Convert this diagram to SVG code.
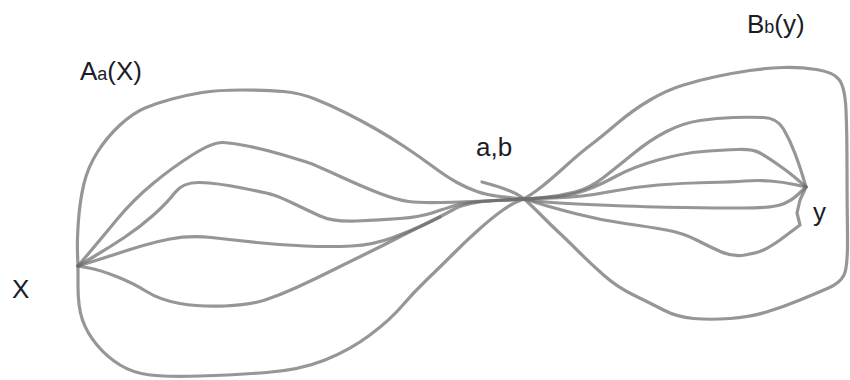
<svg xmlns="http://www.w3.org/2000/svg" width="850" height="380" viewBox="0 0 850 380">
<style>
.c{fill:none;stroke:#6e6e6e;stroke-opacity:0.72;stroke-width:3.2;stroke-linejoin:round;stroke-linecap:round}
.t{font-family:"Liberation Sans","Open Sans",sans-serif;font-size:26px;fill:#1c1c28}
.s{font-size:18px}
</style>
<rect width="850" height="380" fill="#fff"/>
<g id="connectors">
<path class="c" d="M78,266 L77.5,253 Q77,240 78.5,220 Q80,200 84,183.5 Q88,167 97.5,152 Q107,137 120,125 Q133,113 145,108 Q157,103 172,99 Q187,95 202,92.5 Q217,90 242,90 Q267,90 283.5,91.5 Q300,93 315,99 Q330,105 345,112.5 Q360,120 375,128.5 Q390,137 405,147 Q420,157 433.5,167 Q447,177 457,182.5 Q467,188 477,191.5 Q487,195 500,196.5 Q513,198 519,198.5 L525,199"/>
<path class="c" d="M78,266 L89,253 Q100,240 116.5,220 Q133,200 153,183.5 Q173,167 193,154.5 Q213,142 223,142.5 Q233,143 250,146.5 Q267,150 283.5,155 Q300,160 306.5,162 Q313,164 338,175.5 Q363,187 380,193.5 Q397,200 408.5,201.5 Q420,203 441.5,202.5 Q463,202 494,200.5 L525,199"/>
<path class="c" d="M78,266 L94,256.5 Q110,247 125,237 Q140,227 153.5,215 Q167,203 175,192.5 Q183,182 200,182.5 Q217,183 242,188 Q267,193 273.5,195 Q280,197 293.5,203.5 Q307,210 320,216 Q333,222 356.5,221 Q380,220 400,218.5 Q420,217 433.5,212.5 Q447,208 457,205 Q467,202 496,200.5 L525,199"/>
<path class="c" d="M78,266 L92.5,261.5 Q107,257 128.5,250 Q150,243 170,239 Q190,235 211.5,237.5 Q233,240 256.5,242.5 Q280,245 305,246 Q330,247 351.5,246 Q373,245 393,237.5 Q413,230 426.5,223.5 Q440,217 453.5,209.5 Q467,202 496,200.5 L525,199"/>
<path class="c" d="M78,266 L89,268 Q100,270 116.5,276.5 Q133,283 146.5,291.5 Q160,300 180,303.5 Q200,307 225,306 Q250,305 265,300 Q280,295 296.5,287.5 Q313,280 330,271.5 Q347,263 363.5,255 Q380,247 396.5,238.5 Q413,230 426.5,223.5 L440,217"/>
<path class="c" d="M78,266 L78,286.5 Q78,307 82.5,320 Q87,333 97,345 Q107,357 120,365 Q133,373 150,375 Q167,377 200,376 Q233,375 266.5,372.5 Q300,370 325,360 Q350,350 370,335 Q390,320 401.5,306.5 Q413,293 426.5,280 Q440,267 453.5,253.5 Q467,240 480,228.5 Q493,217 503,210 Q513,203 519,201 Q525,199 536,191 Q547,183 563.5,168 Q580,153 590,145.5 Q600,138 616.5,124 Q633,110 650,100 Q667,90 683.5,85 Q700,80 716.5,76.5 Q733,73 750,70.5 Q767,68 783.5,67.5 Q800,67 816.5,69.5 Q833,72 839,79.5 Q845,87 846,110 Q847,133 847,166.5 Q847,200 847.5,233.5 Q848,267 844,275 Q840,283 828.5,288 Q817,293 800,300 Q783,307 766.5,312 Q750,317 730,318.5 Q710,320 693.5,318.5 Q677,317 663.5,310 Q650,303 633.5,295 Q617,287 603.5,275 Q590,263 578.5,251.5 Q567,240 560,233.5 Q553,227 543,217 Q533,207 526.5,201 Q520,195 510,191 Q500,187 491,184.5 L482,182"/>
<path class="c" d="M525,199 L542.5,197.5 Q560,196 575,192 Q590,188 603.5,177.5 Q617,167 633.5,153.5 Q650,140 666.5,131.5 Q683,123 700,120.5 Q717,118 733.5,117.5 Q750,117 763.5,117.5 Q777,118 783.5,129 Q790,140 795,153.5 Q800,167 803,177 L806,187"/>
<path class="c" d="M525,199 L547.5,197.5 Q570,196 585,190.5 Q600,185 616.5,176 Q633,167 658,160 Q683,153 703,151.5 Q723,150 738,149.5 Q753,149 760,153 Q767,157 778.5,165 Q790,173 798,180 L806,187"/>
<path class="c" d="M525,199 L554,198 Q583,197 608,192 Q633,187 658,185 Q683,183 708,182.5 Q733,182 745,181 Q757,180 770,181 Q783,182 794.5,184.5 L806,187"/>
<path class="c" d="M525,199 L537.5,201 Q550,203 600,205 Q650,207 683.5,207.5 Q717,208 743.5,208 Q770,208 780,205 Q790,202 798,194.5 L806,187"/>
<path class="c" d="M525,199 L537.5,203 Q550,207 575,213.5 Q600,220 625,223.5 Q650,227 666.5,230 Q683,233 696.5,240 Q710,247 721.5,252 Q733,257 745,255 Q757,253 763.5,250 Q770,247 780,240 L800,225 L797,213 L800,200 L806,187"/>
</g>
<g id="label-A"><text class="t" x="80" y="80">A<tspan class="s">a</tspan>(X)</text></g>
<g id="label-X"><text class="t" x="12" y="298">X</text></g>
<g id="label-ab"><text class="t" x="476" y="156">a,b</text></g>
<g id="label-B"><text class="t" x="747" y="33">B<tspan class="s">b</tspan>(y)</text></g>
<g id="label-y"><text class="t" x="813" y="221">y</text></g>
</svg>
